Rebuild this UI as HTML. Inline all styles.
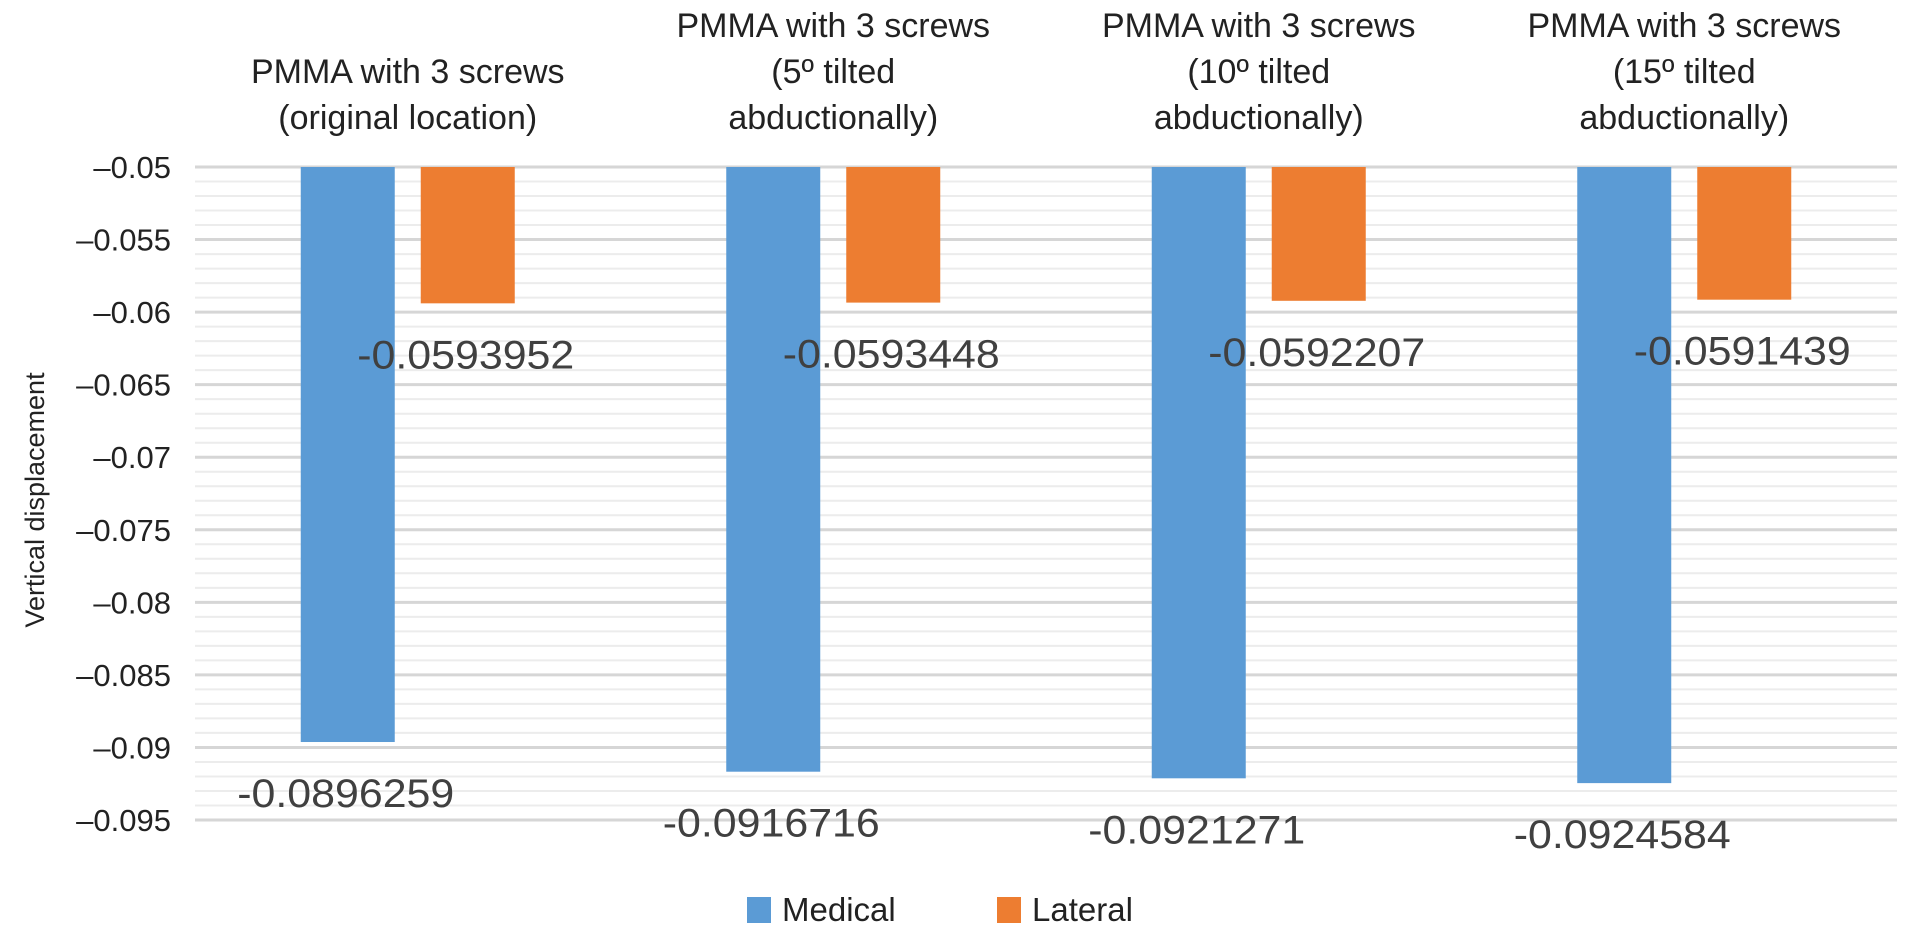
<!DOCTYPE html>
<html><head><meta charset="utf-8"><style>
html,body{margin:0;padding:0;background:#fff;}
svg{display:block;font-family:"Liberation Sans",sans-serif;}
</style></head><body>
<svg id="chart" width="1913" height="943"></svg>
<script>
const categories=[["PMMA with 3 screws","(original location)"],["PMMA with 3 screws","(5º tilted","abductionally)"],["PMMA with 3 screws","(10º tilted","abductionally)"],["PMMA with 3 screws","(15º tilted","abductionally)"]];
const medicalValues=[-0.0896259,-0.0916716,-0.0921271,-0.0924584];
const lateralValues=[-0.0593952,-0.0593448,-0.0592207,-0.0591439];
const yTicks=[-0.05,-0.055,-0.06,-0.065,-0.07,-0.075,-0.08,-0.085,-0.09,-0.095];
const seriesNames=["Medical","Lateral"];
const colors=["#5b9bd5","#ed7d31"];
const NS="http://www.w3.org/2000/svg";
const svg=document.getElementById('chart');
const L=195,R=1897,T=167,B=820,yMax=-0.05,yMin=-0.095;
function y(v){return T+(yMax-v)/(yMax-yMin)*(B-T);}
const gw=(R-L)/categories.length;
function gx(i){return L+gw*(i+0.5);}
function mk(tag,attrs,parent){const e=document.createElementNS(NS,tag);for(const k in attrs)e.setAttribute(k,attrs[k]);(parent||svg).appendChild(e);return e;}
for(let k=0;k<=45;k++){const v=yMax-k*0.001;if(k%5===0)continue;
 const g=mk('line',{x1:L,x2:R,y1:y(v),y2:y(v),stroke:'#ececec','stroke-width':2});
 
 }
yTicks.forEach(t=>{
 const g=mk('line',{x1:L,x2:R,y1:y(t),y2:y(t),stroke:'#d6d6d6','stroke-width':3});
 
 
 const tx=mk('text',{x:171,y:y(t)+11,'text-anchor':'end','font-size':31,fill:'#222'});
 tx.textContent=(t.toString()).replace('-','\u2013');
 
 
});
const bw=94,off=60;
categories.forEach((c,i)=>{
 const cx=gx(i);
 const n=c.length;
 c.forEach((line,j)=>{
  const t=mk('text',{x:cx,y:117+12-(n-1-j)*46,'text-anchor':'middle','font-size':34,fill:'#222'});
  t.textContent=line;
  
  
 });
 [[medicalValues[i],-off,colors[0],'medical'],[lateralValues[i],off,colors[1],'lateral']].forEach(([v,o,col,nm])=>{
  const b=mk('rect',{x:cx+o-bw/2,y:y(yMax),width:bw,height:y(v)-y(yMax),fill:col});
  
  
  const lab=mk('text',{x:cx+o-2,y:y(v)+65,'text-anchor':'middle','font-size':40,fill:'#404040',textLength:217,lengthAdjust:'spacingAndGlyphs'});
  lab.textContent=v.toString();
  
  
 });
});
const yt=mk('text',{x:0,y:0,transform:'translate(44,500) rotate(-90)','text-anchor':'middle','font-size':27,fill:'#222'});
yt.textContent='Vertical displacement';


const lx=[747,997];
seriesNames.forEach((s,i)=>{
 const r=mk('rect',{x:lx[i],y:897,width:24,height:26,fill:colors[i]});
 
 
 const t=mk('text',{x:lx[i]+35,y:921,'font-size':33,fill:'#222'});
 t.textContent=s;
 
 
});
</script>
</body></html>
